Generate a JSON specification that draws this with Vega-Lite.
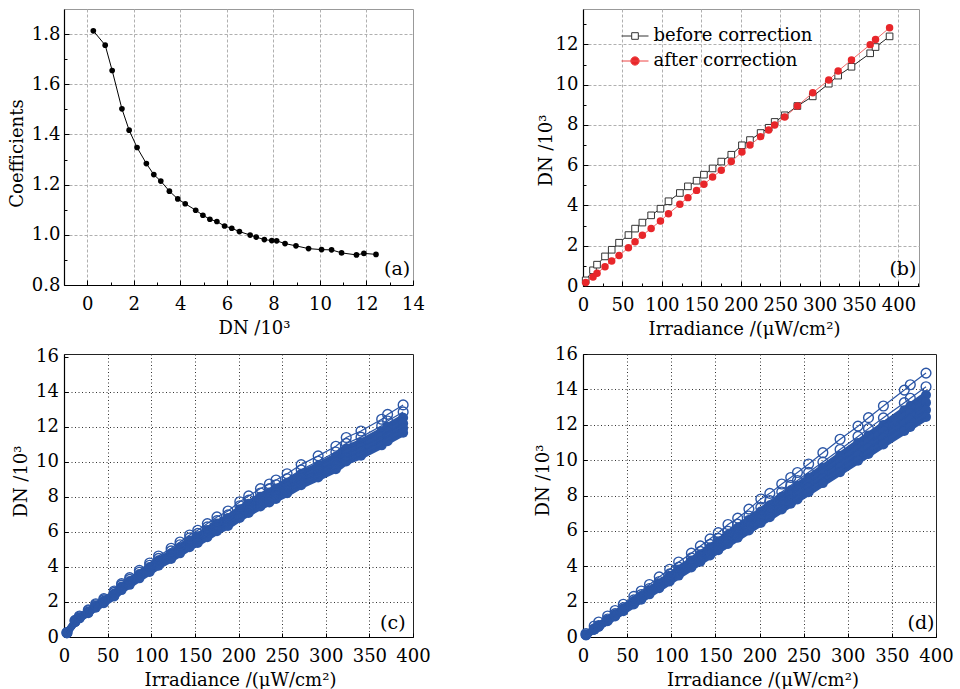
{
"$schema": "https://vega.github.io/schema/vega-lite/v6.json",
"padding": {"left": 8, "top": 8, "right": 0, "bottom": 0},
"background": "white",
"config": {
  "font": "DejaVu Serif",
  "axis": {"labelFont": "DejaVu Serif", "titleFont": "DejaVu Serif", "labelFontSize": 18, "titleFontSize": 18, "labelColor": "black", "titleColor": "black", "titleFontWeight": "normal", "domainColor": "black", "domainWidth": 1.2, "tickColor": "black", "labelFlush": false, "labelOverlap": false, "labelBound": false, "tickCount": 100},
  "text": {"font": "DejaVu Serif"}
},
"datasets": {
  "a": [
    {"x":0.26,"y":1.813},{"x":0.77,"y":1.756},{"x":1.07,"y":1.655},{"x":1.49,"y":1.502},{"x":1.80,"y":1.417},{"x":2.14,"y":1.348},{"x":2.54,"y":1.284},{"x":2.86,"y":1.240},{"x":3.16,"y":1.214},{"x":3.53,"y":1.174},{"x":3.89,"y":1.143},{"x":4.21,"y":1.124},{"x":4.66,"y":1.098},{"x":4.97,"y":1.078},{"x":5.27,"y":1.062},{"x":5.57,"y":1.053},{"x":5.90,"y":1.035},{"x":6.21,"y":1.026},{"x":6.54,"y":1.013},{"x":7.00,"y":0.999},{"x":7.26,"y":0.991},{"x":7.61,"y":0.981},{"x":7.93,"y":0.977},{"x":8.14,"y":0.976},{"x":8.50,"y":0.965},{"x":8.97,"y":0.956},{"x":9.51,"y":0.945},{"x":10.07,"y":0.941},{"x":10.50,"y":0.940},{"x":10.93,"y":0.928},{"x":11.57,"y":0.920},{"x":11.89,"y":0.926},{"x":12.41,"y":0.922}
  ],
  "b": [
    {"series":"before correction","x":3.4,"y":0.28},{"series":"before correction","x":12.7,"y":0.78},{"series":"before correction","x":17.8,"y":1.06},{"series":"before correction","x":27.9,"y":1.47},{"series":"before correction","x":36.4,"y":1.80},{"series":"before correction","x":45.7,"y":2.15},{"series":"before correction","x":57.6,"y":2.53},{"series":"before correction","x":66.0,"y":2.85},{"series":"before correction","x":75.3,"y":3.15},{"series":"before correction","x":86.4,"y":3.51},{"series":"before correction","x":98.2,"y":3.84},{"series":"before correction","x":108.4,"y":4.21},{"series":"before correction","x":122.8,"y":4.62},{"series":"before correction","x":133.0,"y":4.95},{"series":"before correction","x":144.0,"y":5.23},{"series":"before correction","x":153.3,"y":5.53},{"series":"before correction","x":164.3,"y":5.84},{"series":"before correction","x":175.3,"y":6.18},{"series":"before correction","x":188.0,"y":6.52},{"series":"before correction","x":201.5,"y":6.99},{"series":"before correction","x":211.7,"y":7.25},{"series":"before correction","x":225.2,"y":7.60},{"series":"before correction","x":235.4,"y":7.86},{"series":"before correction","x":243.0,"y":8.15},{"series":"before correction","x":255.7,"y":8.48},{"series":"before correction","x":271.8,"y":8.94},{"series":"before correction","x":291.3,"y":9.42},{"series":"before correction","x":311.6,"y":10.05},{"series":"before correction","x":323.5,"y":10.45},{"series":"before correction","x":340.4,"y":10.89},{"series":"before correction","x":364.1,"y":11.56},{"series":"before correction","x":370.9,"y":11.87},{"series":"before correction","x":388.7,"y":12.40},
    {"series":"after correction","x":3.4,"y":0.17},{"series":"after correction","x":12.7,"y":0.45},{"series":"after correction","x":17.8,"y":0.63},{"series":"after correction","x":27.9,"y":0.96},{"series":"after correction","x":36.4,"y":1.24},{"series":"after correction","x":45.7,"y":1.51},{"series":"after correction","x":57.6,"y":1.90},{"series":"after correction","x":66.0,"y":2.20},{"series":"after correction","x":75.3,"y":2.52},{"series":"after correction","x":86.4,"y":2.86},{"series":"after correction","x":98.2,"y":3.23},{"series":"after correction","x":108.4,"y":3.59},{"series":"after correction","x":122.8,"y":4.06},{"series":"after correction","x":133.0,"y":4.39},{"series":"after correction","x":144.0,"y":4.75},{"series":"after correction","x":153.3,"y":5.05},{"series":"after correction","x":164.3,"y":5.41},{"series":"after correction","x":175.3,"y":5.75},{"series":"after correction","x":188.0,"y":6.18},{"series":"after correction","x":201.5,"y":6.66},{"series":"after correction","x":211.7,"y":7.00},{"series":"after correction","x":225.2,"y":7.42},{"series":"after correction","x":235.4,"y":7.75},{"series":"after correction","x":243.0,"y":8.00},{"series":"after correction","x":255.7,"y":8.39},{"series":"after correction","x":271.8,"y":8.94},{"series":"after correction","x":291.3,"y":9.60},{"series":"after correction","x":311.6,"y":10.23},{"series":"after correction","x":323.5,"y":10.68},{"series":"after correction","x":340.4,"y":11.23},{"series":"after correction","x":364.1,"y":11.99},{"series":"after correction","x":370.9,"y":12.24},{"series":"after correction","x":388.7,"y":12.83}
  ],
  "c": [
    {"line":1,"x":3.4,"y":0.25},{"line":1,"x":12.7,"y":0.95},{"line":1,"x":17.8,"y":1.2},{"line":1,"x":27.9,"y":1.55},{"line":1,"x":36.4,"y":1.90},{"line":1,"x":45.7,"y":2.19},{"line":1,"x":57.6,"y":2.63},{"line":1,"x":66.0,"y":3.05},{"line":1,"x":75.3,"y":3.39},{"line":1,"x":86.4,"y":3.81},{"line":1,"x":98.2,"y":4.23},{"line":1,"x":108.4,"y":4.63},{"line":1,"x":122.8,"y":5.07},{"line":1,"x":133.0,"y":5.43},{"line":1,"x":144.0,"y":5.83},{"line":1,"x":153.3,"y":6.1},{"line":1,"x":164.3,"y":6.48},{"line":1,"x":175.3,"y":6.86},{"line":1,"x":188.0,"y":7.2},{"line":1,"x":201.5,"y":7.73},{"line":1,"x":211.7,"y":8.06},{"line":1,"x":225.2,"y":8.48},{"line":1,"x":235.4,"y":8.74},{"line":1,"x":243.0,"y":8.97},{"line":1,"x":255.7,"y":9.33},{"line":1,"x":271.8,"y":9.85},{"line":1,"x":291.3,"y":10.35},{"line":1,"x":311.6,"y":10.9},{"line":1,"x":323.5,"y":11.40},{"line":1,"x":340.4,"y":11.77},{"line":1,"x":364.1,"y":12.44},{"line":1,"x":370.9,"y":12.72},{"line":1,"x":388.7,"y":13.26},
    {"line":2,"x":3.4,"y":0.24},{"line":2,"x":12.7,"y":0.92},{"line":2,"x":17.8,"y":1.16},{"line":2,"x":27.9,"y":1.50},{"line":2,"x":36.4,"y":1.84},{"line":2,"x":45.7,"y":2.12},{"line":2,"x":57.6,"y":2.55},{"line":2,"x":66.0,"y":2.96},{"line":2,"x":75.3,"y":3.29},{"line":2,"x":86.4,"y":3.70},{"line":2,"x":98.2,"y":4.10},{"line":2,"x":108.4,"y":4.49},{"line":2,"x":122.8,"y":4.92},{"line":2,"x":133.0,"y":5.27},{"line":2,"x":144.0,"y":5.66},{"line":2,"x":153.3,"y":5.92},{"line":2,"x":164.3,"y":6.29},{"line":2,"x":175.3,"y":6.65},{"line":2,"x":188.0,"y":6.98},{"line":2,"x":201.5,"y":7.50},{"line":2,"x":211.7,"y":7.82},{"line":2,"x":225.2,"y":8.23},{"line":2,"x":235.4,"y":8.48},{"line":2,"x":243.0,"y":8.70},{"line":2,"x":255.7,"y":9.05},{"line":2,"x":271.8,"y":9.55},{"line":2,"x":291.3,"y":10.04},{"line":2,"x":311.6,"y":10.57},{"line":2,"x":323.5,"y":11.06},{"line":2,"x":340.4,"y":11.42},{"line":2,"x":364.1,"y":12.07},{"line":2,"x":370.9,"y":12.34},{"line":2,"x":388.7,"y":12.86},
    {"line":3,"x":3.4,"y":0.24},{"line":3,"x":12.7,"y":0.90},{"line":3,"x":17.8,"y":1.13},{"line":3,"x":27.9,"y":1.46},{"line":3,"x":36.4,"y":1.80},{"line":3,"x":45.7,"y":2.07},{"line":3,"x":57.6,"y":2.49},{"line":3,"x":66.0,"y":2.88},{"line":3,"x":75.3,"y":3.20},{"line":3,"x":86.4,"y":3.60},{"line":3,"x":98.2,"y":4.00},{"line":3,"x":108.4,"y":4.38},{"line":3,"x":122.8,"y":4.79},{"line":3,"x":133.0,"y":5.13},{"line":3,"x":144.0,"y":5.51},{"line":3,"x":153.3,"y":5.76},{"line":3,"x":164.3,"y":6.12},{"line":3,"x":175.3,"y":6.48},{"line":3,"x":188.0,"y":6.80},{"line":3,"x":201.5,"y":7.30},{"line":3,"x":211.7,"y":7.62},{"line":3,"x":225.2,"y":8.01},{"line":3,"x":235.4,"y":8.26},{"line":3,"x":243.0,"y":8.48},{"line":3,"x":255.7,"y":8.82},{"line":3,"x":271.8,"y":9.31},{"line":3,"x":291.3,"y":9.78},{"line":3,"x":311.6,"y":10.30},{"line":3,"x":323.5,"y":10.77},{"line":3,"x":340.4,"y":11.12},{"line":3,"x":364.1,"y":11.76},{"line":3,"x":370.9,"y":12.02},{"line":3,"x":388.7,"y":12.53},
    {"line":4,"x":3.4,"y":0.23},{"line":4,"x":12.7,"y":0.87},{"line":4,"x":17.8,"y":1.10},{"line":4,"x":27.9,"y":1.43},{"line":4,"x":36.4,"y":1.75},{"line":4,"x":45.7,"y":2.01},{"line":4,"x":57.6,"y":2.42},{"line":4,"x":66.0,"y":2.81},{"line":4,"x":75.3,"y":3.12},{"line":4,"x":86.4,"y":3.51},{"line":4,"x":98.2,"y":3.89},{"line":4,"x":108.4,"y":4.26},{"line":4,"x":122.8,"y":4.66},{"line":4,"x":133.0,"y":5.00},{"line":4,"x":144.0,"y":5.36},{"line":4,"x":153.3,"y":5.61},{"line":4,"x":164.3,"y":5.96},{"line":4,"x":175.3,"y":6.31},{"line":4,"x":188.0,"y":6.62},{"line":4,"x":201.5,"y":7.11},{"line":4,"x":211.7,"y":7.42},{"line":4,"x":225.2,"y":7.80},{"line":4,"x":235.4,"y":8.04},{"line":4,"x":243.0,"y":8.25},{"line":4,"x":255.7,"y":8.58},{"line":4,"x":271.8,"y":9.06},{"line":4,"x":291.3,"y":9.52},{"line":4,"x":311.6,"y":10.03},{"line":4,"x":323.5,"y":10.49},{"line":4,"x":340.4,"y":10.83},{"line":4,"x":364.1,"y":11.44},{"line":4,"x":370.9,"y":11.70},{"line":4,"x":388.7,"y":12.20},
    {"line":5,"x":3.4,"y":0.23},{"line":5,"x":12.7,"y":0.86},{"line":5,"x":17.8,"y":1.08},{"line":5,"x":27.9,"y":1.40},{"line":5,"x":36.4,"y":1.71},{"line":5,"x":45.7,"y":1.97},{"line":5,"x":57.6,"y":2.37},{"line":5,"x":66.0,"y":2.75},{"line":5,"x":75.3,"y":3.05},{"line":5,"x":86.4,"y":3.43},{"line":5,"x":98.2,"y":3.81},{"line":5,"x":108.4,"y":4.17},{"line":5,"x":122.8,"y":4.56},{"line":5,"x":133.0,"y":4.89},{"line":5,"x":144.0,"y":5.25},{"line":5,"x":153.3,"y":5.49},{"line":5,"x":164.3,"y":5.83},{"line":5,"x":175.3,"y":6.17},{"line":5,"x":188.0,"y":6.48},{"line":5,"x":201.5,"y":6.96},{"line":5,"x":211.7,"y":7.25},{"line":5,"x":225.2,"y":7.63},{"line":5,"x":235.4,"y":7.87},{"line":5,"x":243.0,"y":8.07},{"line":5,"x":255.7,"y":8.40},{"line":5,"x":271.8,"y":8.87},{"line":5,"x":291.3,"y":9.32},{"line":5,"x":311.6,"y":9.81},{"line":5,"x":323.5,"y":10.26},{"line":5,"x":340.4,"y":10.59},{"line":5,"x":364.1,"y":11.20},{"line":5,"x":370.9,"y":11.45},{"line":5,"x":388.7,"y":11.93},
    {"line":6,"x":3.4,"y":0.22},{"line":6,"x":12.7,"y":0.84},{"line":6,"x":17.8,"y":1.06},{"line":6,"x":27.9,"y":1.36},{"line":6,"x":36.4,"y":1.67},{"line":6,"x":45.7,"y":1.93},{"line":6,"x":57.6,"y":2.31},{"line":6,"x":66.0,"y":2.68},{"line":6,"x":75.3,"y":2.98},{"line":6,"x":86.4,"y":3.35},{"line":6,"x":98.2,"y":3.72},{"line":6,"x":108.4,"y":4.07},{"line":6,"x":122.8,"y":4.46},{"line":6,"x":133.0,"y":4.78},{"line":6,"x":144.0,"y":5.13},{"line":6,"x":153.3,"y":5.37},{"line":6,"x":164.3,"y":5.70},{"line":6,"x":175.3,"y":6.04},{"line":6,"x":188.0,"y":6.34},{"line":6,"x":201.5,"y":6.80},{"line":6,"x":211.7,"y":7.09},{"line":6,"x":225.2,"y":7.46},{"line":6,"x":235.4,"y":7.69},{"line":6,"x":243.0,"y":7.89},{"line":6,"x":255.7,"y":8.21},{"line":6,"x":271.8,"y":8.67},{"line":6,"x":291.3,"y":9.11},{"line":6,"x":311.6,"y":9.59},{"line":6,"x":323.5,"y":10.03},{"line":6,"x":340.4,"y":10.36},{"line":6,"x":364.1,"y":10.95},{"line":6,"x":370.9,"y":11.19},{"line":6,"x":388.7,"y":11.67}
  ],
  "d": [
    {"line":1,"x":3.4,"y":0.19},{"line":1,"x":12.7,"y":0.62},{"line":1,"x":17.8,"y":0.85},{"line":1,"x":27.9,"y":1.19},{"line":1,"x":36.4,"y":1.50},{"line":1,"x":45.7,"y":1.85},{"line":1,"x":57.6,"y":2.30},{"line":1,"x":66.0,"y":2.60},{"line":1,"x":75.3,"y":2.97},{"line":1,"x":86.4,"y":3.40},{"line":1,"x":98.2,"y":3.83},{"line":1,"x":108.4,"y":4.24},{"line":1,"x":122.8,"y":4.74},{"line":1,"x":133.0,"y":5.15},{"line":1,"x":144.0,"y":5.55},{"line":1,"x":153.3,"y":5.90},{"line":1,"x":164.3,"y":6.36},{"line":1,"x":175.3,"y":6.72},{"line":1,"x":188.0,"y":7.23},{"line":1,"x":201.5,"y":7.80},{"line":1,"x":211.7,"y":8.12},{"line":1,"x":225.2,"y":8.65},{"line":1,"x":235.4,"y":9.02},{"line":1,"x":243.0,"y":9.30},{"line":1,"x":255.7,"y":9.78},{"line":1,"x":271.8,"y":10.42},{"line":1,"x":291.3,"y":11.18},{"line":1,"x":311.6,"y":11.92},{"line":1,"x":323.5,"y":12.40},{"line":1,"x":340.4,"y":13.06},{"line":1,"x":364.1,"y":13.96},{"line":1,"x":370.9,"y":14.26},{"line":1,"x":388.7,"y":14.92},
    {"line":2,"x":3.4,"y":0.12},{"line":2,"x":12.7,"y":0.46},{"line":2,"x":17.8,"y":0.65},{"line":2,"x":27.9,"y":1.02},{"line":2,"x":36.4,"y":1.32},{"line":2,"x":45.7,"y":1.66},{"line":2,"x":57.6,"y":2.10},{"line":2,"x":66.0,"y":2.40},{"line":2,"x":75.3,"y":2.74},{"line":2,"x":86.4,"y":3.14},{"line":2,"x":98.2,"y":3.57},{"line":2,"x":108.4,"y":3.95},{"line":2,"x":122.8,"y":4.47},{"line":2,"x":133.0,"y":4.84},{"line":2,"x":144.0,"y":5.24},{"line":2,"x":153.3,"y":5.58},{"line":2,"x":164.3,"y":5.98},{"line":2,"x":175.3,"y":6.38},{"line":2,"x":188.0,"y":6.84},{"line":2,"x":201.5,"y":7.33},{"line":2,"x":211.7,"y":7.71},{"line":2,"x":225.2,"y":8.20},{"line":2,"x":235.4,"y":8.57},{"line":2,"x":243.0,"y":8.85},{"line":2,"x":255.7,"y":9.31},{"line":2,"x":271.8,"y":9.89},{"line":2,"x":291.3,"y":10.60},{"line":2,"x":311.6,"y":11.34},{"line":2,"x":323.5,"y":11.78},{"line":2,"x":340.4,"y":12.39},{"line":2,"x":364.1,"y":13.25},{"line":2,"x":370.9,"y":13.50},{"line":2,"x":388.7,"y":14.15},
    {"line":3,"x":3.4,"y":0.12},{"line":3,"x":12.7,"y":0.45},{"line":3,"x":17.8,"y":0.63},{"line":3,"x":27.9,"y":0.98},{"line":3,"x":36.4,"y":1.28},{"line":3,"x":45.7,"y":1.61},{"line":3,"x":57.6,"y":2.03},{"line":3,"x":66.0,"y":2.32},{"line":3,"x":75.3,"y":2.65},{"line":3,"x":86.4,"y":3.04},{"line":3,"x":98.2,"y":3.46},{"line":3,"x":108.4,"y":3.82},{"line":3,"x":122.8,"y":4.32},{"line":3,"x":133.0,"y":4.68},{"line":3,"x":144.0,"y":5.07},{"line":3,"x":153.3,"y":5.40},{"line":3,"x":164.3,"y":5.78},{"line":3,"x":175.3,"y":6.17},{"line":3,"x":188.0,"y":6.62},{"line":3,"x":201.5,"y":7.09},{"line":3,"x":211.7,"y":7.45},{"line":3,"x":225.2,"y":7.93},{"line":3,"x":235.4,"y":8.29},{"line":3,"x":243.0,"y":8.55},{"line":3,"x":255.7,"y":9.00},{"line":3,"x":271.8,"y":9.57},{"line":3,"x":291.3,"y":10.25},{"line":3,"x":311.6,"y":10.97},{"line":3,"x":323.5,"y":11.39},{"line":3,"x":340.4,"y":11.98},{"line":3,"x":364.1,"y":12.82},{"line":3,"x":370.9,"y":13.06},{"line":3,"x":388.7,"y":13.68},
    {"line":4,"x":3.4,"y":0.12},{"line":4,"x":12.7,"y":0.43},{"line":4,"x":17.8,"y":0.61},{"line":4,"x":27.9,"y":0.95},{"line":4,"x":36.4,"y":1.24},{"line":4,"x":45.7,"y":1.56},{"line":4,"x":57.6,"y":1.96},{"line":4,"x":66.0,"y":2.25},{"line":4,"x":75.3,"y":2.57},{"line":4,"x":86.4,"y":2.95},{"line":4,"x":98.2,"y":3.35},{"line":4,"x":108.4,"y":3.70},{"line":4,"x":122.8,"y":4.19},{"line":4,"x":133.0,"y":4.54},{"line":4,"x":144.0,"y":4.91},{"line":4,"x":153.3,"y":5.23},{"line":4,"x":164.3,"y":5.60},{"line":4,"x":175.3,"y":5.98},{"line":4,"x":188.0,"y":6.41},{"line":4,"x":201.5,"y":6.87},{"line":4,"x":211.7,"y":7.22},{"line":4,"x":225.2,"y":7.68},{"line":4,"x":235.4,"y":8.03},{"line":4,"x":243.0,"y":8.29},{"line":4,"x":255.7,"y":8.72},{"line":4,"x":271.8,"y":9.27},{"line":4,"x":291.3,"y":9.93},{"line":4,"x":311.6,"y":10.63},{"line":4,"x":323.5,"y":11.03},{"line":4,"x":340.4,"y":11.61},{"line":4,"x":364.1,"y":12.42},{"line":4,"x":370.9,"y":12.65},{"line":4,"x":388.7,"y":13.25},
    {"line":5,"x":3.4,"y":0.11},{"line":5,"x":12.7,"y":0.42},{"line":5,"x":17.8,"y":0.59},{"line":5,"x":27.9,"y":0.92},{"line":5,"x":36.4,"y":1.20},{"line":5,"x":45.7,"y":1.51},{"line":5,"x":57.6,"y":1.90},{"line":5,"x":66.0,"y":2.18},{"line":5,"x":75.3,"y":2.48},{"line":5,"x":86.4,"y":2.85},{"line":5,"x":98.2,"y":3.24},{"line":5,"x":108.4,"y":3.58},{"line":5,"x":122.8,"y":4.05},{"line":5,"x":133.0,"y":4.39},{"line":5,"x":144.0,"y":4.75},{"line":5,"x":153.3,"y":5.06},{"line":5,"x":164.3,"y":5.42},{"line":5,"x":175.3,"y":5.78},{"line":5,"x":188.0,"y":6.20},{"line":5,"x":201.5,"y":6.65},{"line":5,"x":211.7,"y":6.99},{"line":5,"x":225.2,"y":7.43},{"line":5,"x":235.4,"y":7.77},{"line":5,"x":243.0,"y":8.02},{"line":5,"x":255.7,"y":8.44},{"line":5,"x":271.8,"y":8.97},{"line":5,"x":291.3,"y":9.61},{"line":5,"x":311.6,"y":10.28},{"line":5,"x":323.5,"y":10.68},{"line":5,"x":340.4,"y":11.23},{"line":5,"x":364.1,"y":12.02},{"line":5,"x":370.9,"y":12.24},{"line":5,"x":388.7,"y":12.83},
    {"line":6,"x":3.4,"y":0.11},{"line":6,"x":12.7,"y":0.41},{"line":6,"x":17.8,"y":0.57},{"line":6,"x":27.9,"y":0.89},{"line":6,"x":36.4,"y":1.16},{"line":6,"x":45.7,"y":1.46},{"line":6,"x":57.6,"y":1.84},{"line":6,"x":66.0,"y":2.11},{"line":6,"x":75.3,"y":2.41},{"line":6,"x":86.4,"y":2.76},{"line":6,"x":98.2,"y":3.14},{"line":6,"x":108.4,"y":3.47},{"line":6,"x":122.8,"y":3.93},{"line":6,"x":133.0,"y":4.26},{"line":6,"x":144.0,"y":4.61},{"line":6,"x":153.3,"y":4.91},{"line":6,"x":164.3,"y":5.26},{"line":6,"x":175.3,"y":5.61},{"line":6,"x":188.0,"y":6.02},{"line":6,"x":201.5,"y":6.45},{"line":6,"x":211.7,"y":6.77},{"line":6,"x":225.2,"y":7.21},{"line":6,"x":235.4,"y":7.53},{"line":6,"x":243.0,"y":7.78},{"line":6,"x":255.7,"y":8.18},{"line":6,"x":271.8,"y":8.70},{"line":6,"x":291.3,"y":9.32},{"line":6,"x":311.6,"y":9.97},{"line":6,"x":323.5,"y":10.35},{"line":6,"x":340.4,"y":10.89},{"line":6,"x":364.1,"y":11.65},{"line":6,"x":370.9,"y":11.87},{"line":6,"x":388.7,"y":12.44}
  ]
},
"columns": 2,
"bounds": "flush",
"align": "each",
"spacing": {"row": 68, "column": 170},
"concat": [
  {
    "width": 349, "height": 276,
    "view": {"stroke": "#999999", "strokeWidth": 1},
    "layer": [
      {
        "data": {"name": "a"},
        "mark": {"type": "line", "color": "black", "strokeWidth": 1},
        "encoding": {
          "x": {"field": "x", "type": "quantitative", "scale": {"domain": [-1, 14], "nice": false, "zero": false},
            "axis": {"title": "DN /10³", "values": [-1,0,1,2,3,4,5,6,7,8,9,10,11,12,13,14], "tickCount": 100, "format": "d",
              "labelExpr": "datum.value % 2 == 0 ? datum.label : ''",
              "grid": true, "gridColor": "#b0b0b0", "gridDash": [3, 2],
              "gridOpacity": {"condition": {"test": "datum.value % 2 != 0 || datum.value == 14", "value": 0}, "value": 1},
              "tickSize": {"condition": {"test": "datum.value % 2 != 0", "value": -3}, "value": -5},
              "labelPadding": 15, "titleX": 190, "titleY": 48, "titleBaseline": "alphabetic", "titleAlign": "center"}},
          "y": {"field": "y", "type": "quantitative", "scale": {"domain": [0.8, 1.9], "nice": false, "zero": false},
            "axis": {"title": "Coefficients", "values": [0.8,0.9,1.0,1.1,1.2,1.3,1.4,1.5,1.6,1.7,1.8], "tickCount": 100,
              "labelExpr": "abs(datum.value*5-round(datum.value*5)) < 0.01 ? format(datum.value, '.1f') : ''",
              "grid": true, "gridColor": "#b0b0b0", "gridDash": [3, 2],
              "gridOpacity": {"condition": {"test": "abs(datum.value*5-round(datum.value*5)) > 0.01 || datum.value < 0.85", "value": 0}, "value": 1},
              "tickSize": {"condition": {"test": "abs(datum.value*5-round(datum.value*5)) > 0.01", "value": -3}, "value": -5},
              "labelPadding": 9, "titleX": -41.5, "titleY": 144, "titleBaseline": "alphabetic", "titleAlign": "center", "titleAngle": -90}}
        }
      },
      {
        "data": {"name": "a"},
        "mark": {"type": "circle", "size": 32, "color": "black", "opacity": 1},
        "encoding": {"x": {"field": "x", "type": "quantitative"}, "y": {"field": "y", "type": "quantitative"}}
      },
      {
        "data": {"values": [{"label": "(a)"}]},
        "mark": {"type": "text", "fontSize": 19, "align": "center", "baseline": "middle", "color": "black"},
        "encoding": {"x": {"datum": 13.32, "type": "quantitative"}, "y": {"datum": 0.865, "type": "quantitative"}, "text": {"field": "label"}}
      }
    ]
  },
  {
    "width": 336, "height": 277,
    "view": {"stroke": "#999999", "strokeWidth": 1},
    "layer": [
      {
        "data": {"name": "b"},
        "transform": [{"filter": "datum.series == 'before correction'"}],
        "mark": {"type": "line", "color": "#222222", "strokeWidth": 1},
        "encoding": {
          "x": {"field": "x", "type": "quantitative", "scale": {"domain": [0, 426], "nice": false, "zero": false},
            "axis": {"title": "Irradiance /(μW/cm²)", "values": [0,25,50,75,100,125,150,175,200,225,250,275,300,325,350,375,400,425], "tickCount": 100, "format": "d",
              "labelExpr": "datum.value % 50 == 0 ? datum.label : ''",
              "grid": true, "gridColor": "#b0b0b0", "gridDash": [3, 2],
              "gridOpacity": {"condition": {"test": "datum.value % 50 != 0 || datum.value == 0", "value": 0}, "value": 1},
              "tickSize": {"condition": {"test": "datum.value % 50 != 0", "value": -3}, "value": -5},
              "labelPadding": 15, "titleX": 161, "titleY": 48, "titleBaseline": "alphabetic", "titleAlign": "center"}},
          "y": {"field": "y", "type": "quantitative", "scale": {"domain": [0, 13.76], "nice": false, "zero": false},
            "axis": {"title": "DN /10³", "values": [0,1,2,3,4,5,6,7,8,9,10,11,12,13], "tickCount": 100, "format": "d",
              "labelExpr": "datum.value % 2 == 0 ? datum.label : ''",
              "grid": true, "gridColor": "#b0b0b0", "gridDash": [3, 2],
              "gridOpacity": {"condition": {"test": "datum.value % 2 != 0 || datum.value == 0", "value": 0}, "value": 1},
              "tickSize": {"condition": {"test": "datum.value % 2 != 0", "value": -3}, "value": -5},
              "labelPadding": 10, "titleX": -31.5, "titleY": 141, "titleBaseline": "alphabetic", "titleAlign": "center", "titleAngle": -90}}
        }
      },
      {
        "data": {"name": "b"},
        "transform": [{"filter": "datum.series == 'before correction'"}],
        "mark": {"type": "point", "shape": "square", "size": 44, "filled": false, "fill": "white", "fillOpacity": 1, "stroke": "#333333", "strokeWidth": 1, "opacity": 1},
        "encoding": {"x": {"field": "x", "type": "quantitative"}, "y": {"field": "y", "type": "quantitative"}}
      },
      {
        "data": {"name": "b"},
        "transform": [{"filter": "datum.series == 'after correction'"}],
        "mark": {"type": "line", "color": "#f06a6a", "strokeWidth": 1},
        "encoding": {"x": {"field": "x", "type": "quantitative"}, "y": {"field": "y", "type": "quantitative"}}
      },
      {
        "data": {"name": "b"},
        "transform": [{"filter": "datum.series == 'after correction'"}],
        "mark": {"type": "circle", "size": 56, "color": "#e8262a", "opacity": 1},
        "encoding": {"x": {"field": "x", "type": "quantitative"}, "y": {"field": "y", "type": "quantitative"}}
      },
      {
        "data": {"name": "b"},
        "transform": [{"filter": "datum.x < -1000"}],
        "mark": {"type": "point", "opacity": 1},
        "encoding": {
          "shape": {"field": "series", "type": "nominal", "scale": {"domain": ["before correction", "after correction"], "range": ["M-2.25,0H-0.55M0.55,0H2.25M-0.55,-0.55H0.55V0.55H-0.55Z", "M-2.25,0H2.25M0.7,0A0.7,0.7,0,1,1,-0.7,0A0.7,0.7,0,1,1,0.7,0Z"]},
            "legend": {"orient": "none", "legendX": 562, "legendY": 18, "title": null, "labelFont": "DejaVu Serif", "labelFontSize": 18, "labelColor": "black", "symbolSize": 144, "labelOffset": 9.5, "rowPadding": 7, "symbolStrokeWidth": 1, "symbolOpacity": 1, "padding": 0}},
          "stroke": {"field": "series", "type": "nominal", "scale": {"domain": ["before correction", "after correction"], "range": ["#333333", "#ee4444"]},
            "legend": {"orient": "none", "legendX": 562, "legendY": 18, "title": null, "labelFont": "DejaVu Serif", "labelFontSize": 18, "labelColor": "black", "symbolSize": 144, "labelOffset": 9.5, "rowPadding": 7, "symbolStrokeWidth": 1, "symbolOpacity": 1, "padding": 0}},
          "fill": {"field": "series", "type": "nominal", "scale": {"domain": ["before correction", "after correction"], "range": ["#ffffff", "#e8262a"]},
            "legend": {"orient": "none", "legendX": 562, "legendY": 18, "title": null, "labelFont": "DejaVu Serif", "labelFontSize": 18, "labelColor": "black", "symbolSize": 144, "labelOffset": 9.5, "rowPadding": 7, "symbolStrokeWidth": 1, "symbolOpacity": 1, "padding": 0}}
        }
      },
      {
        "data": {"values": [{"label": "(b)"}]},
        "mark": {"type": "text", "fontSize": 19, "align": "center", "baseline": "middle", "color": "black"},
        "encoding": {"x": {"datum": 405.6, "type": "quantitative"}, "y": {"datum": 0.84, "type": "quantitative"}, "text": {"field": "label"}}
      }
    ]
  },
  {
    "width": 349, "height": 283,
    "view": {"stroke": "#222222", "strokeWidth": 1},
    "layer": [
      {
        "data": {"name": "c"},
        "transform": [{"filter": "datum.line >= 3"}],
        "mark": {"type": "line", "color": "#2b56a6", "strokeWidth": 7},
        "encoding": {
          "x": {"field": "x", "type": "quantitative", "scale": {"domain": [0, 400], "nice": false, "zero": false},
            "axis": {"title": "Irradiance /(μW/cm²)", "values": [0,50,100,150,200,250,300,350,400], "tickCount": 100, "format": "d",
              "grid": true, "gridColor": "#333333", "gridDash": [1, 2.5],
              "gridOpacity": {"condition": {"test": "datum.value == 0 || datum.value == 400", "value": 0}, "value": 1},
              "tickSize": -4, "labelPadding": 14.5, "titleX": 176, "titleY": 48, "titleBaseline": "alphabetic", "titleAlign": "center"}},
          "y": {"field": "y", "type": "quantitative", "scale": {"domain": [0, 16.17], "nice": false, "zero": false},
            "axis": {"title": "DN /10³", "values": [0,2,4,6,8,10,12,14,16], "tickCount": 100, "format": "d",
              "grid": true, "gridColor": "#333333", "gridDash": [1, 2.5],
              "gridOpacity": {"condition": {"test": "datum.value == 0 || datum.value == 16", "value": 0}, "value": 1},
              "tickSize": -4, "labelPadding": 9.5, "titleX": -37.5, "titleY": 127, "titleBaseline": "alphabetic", "titleAlign": "center", "titleAngle": -90}},
          "detail": {"field": "line", "type": "nominal"}
        }
      },
      {
        "data": {"name": "c"},
        "transform": [{"filter": "datum.line >= 3"}],
        "mark": {"type": "circle", "size": 100, "color": "#2b56a6", "opacity": 1},
        "encoding": {"x": {"field": "x", "type": "quantitative"}, "y": {"field": "y", "type": "quantitative"}}
      },
      {
        "data": {"name": "c"},
        "mark": {"type": "line", "color": "#2b56a6", "strokeWidth": 1.2},
        "encoding": {"x": {"field": "x", "type": "quantitative"}, "y": {"field": "y", "type": "quantitative"}, "detail": {"field": "line", "type": "nominal"}}
      },
      {
        "data": {"name": "c"},
        "transform": [{"filter": "datum.line <= 2"}],
        "mark": {"type": "point", "shape": "circle", "size": 95, "filled": false, "color": "#2b56a6", "strokeWidth": 1.4, "opacity": 1},
        "encoding": {"x": {"field": "x", "type": "quantitative"}, "y": {"field": "y", "type": "quantitative"}}
      },
      {
        "data": {"values": [{"label": "(c)"}]},
        "mark": {"type": "text", "fontSize": 19, "align": "center", "baseline": "middle", "color": "black"},
        "encoding": {"x": {"datum": 376.9, "type": "quantitative"}, "y": {"datum": 0.82, "type": "quantitative"}, "text": {"field": "label"}}
      }
    ]
  },
  {
    "width": 353, "height": 283,
    "view": {"stroke": "#222222", "strokeWidth": 1},
    "layer": [
      {
        "data": {"name": "d"},
        "transform": [{"filter": "datum.line >= 3"}],
        "mark": {"type": "line", "color": "#2b56a6", "strokeWidth": 7},
        "encoding": {
          "x": {"field": "x", "type": "quantitative", "scale": {"domain": [0, 400], "nice": false, "zero": false},
            "axis": {"title": "Irradiance /(μW/cm²)", "values": [0,50,100,150,200,250,300,350,400], "tickCount": 100, "format": "d",
              "grid": true, "gridColor": "#333333", "gridDash": [1, 2.5],
              "gridOpacity": {"condition": {"test": "datum.value == 0 || datum.value == 400", "value": 0}, "value": 1},
              "tickSize": -4, "labelPadding": 14.5, "titleX": 179.5, "titleY": 48, "titleBaseline": "alphabetic", "titleAlign": "center"}},
          "y": {"field": "y", "type": "quantitative", "scale": {"domain": [0, 16], "nice": false, "zero": false},
            "axis": {"title": "DN /10³", "values": [0,2,4,6,8,10,12,14,16], "tickCount": 100, "format": "d",
              "grid": true, "gridColor": "#333333", "gridDash": [1, 2.5],
              "gridOpacity": {"condition": {"test": "datum.value == 0 || datum.value == 16", "value": 0}, "value": 1},
              "tickSize": -4, "labelPadding": 9.5, "titleX": -34.8, "titleY": 126, "titleBaseline": "alphabetic", "titleAlign": "center", "titleAngle": -90}},
          "detail": {"field": "line", "type": "nominal"}
        }
      },
      {
        "data": {"name": "d"},
        "transform": [{"filter": "datum.line >= 3"}],
        "mark": {"type": "circle", "size": 100, "color": "#2b56a6", "opacity": 1},
        "encoding": {"x": {"field": "x", "type": "quantitative"}, "y": {"field": "y", "type": "quantitative"}}
      },
      {
        "data": {"name": "d"},
        "mark": {"type": "line", "color": "#2b56a6", "strokeWidth": 1.2},
        "encoding": {"x": {"field": "x", "type": "quantitative"}, "y": {"field": "y", "type": "quantitative"}, "detail": {"field": "line", "type": "nominal"}}
      },
      {
        "data": {"name": "d"},
        "transform": [{"filter": "datum.line <= 2"}],
        "mark": {"type": "point", "shape": "circle", "size": 95, "filled": false, "color": "#2b56a6", "strokeWidth": 1.4, "opacity": 1},
        "encoding": {"x": {"field": "x", "type": "quantitative"}, "y": {"field": "y", "type": "quantitative"}}
      },
      {
        "data": {"values": [{"label": "(d)"}]},
        "mark": {"type": "text", "fontSize": 19, "align": "center", "baseline": "middle", "color": "black"},
        "encoding": {"x": {"datum": 383, "type": "quantitative"}, "y": {"datum": 0.81, "type": "quantitative"}, "text": {"field": "label"}}
      }
    ]
  }
]
}
